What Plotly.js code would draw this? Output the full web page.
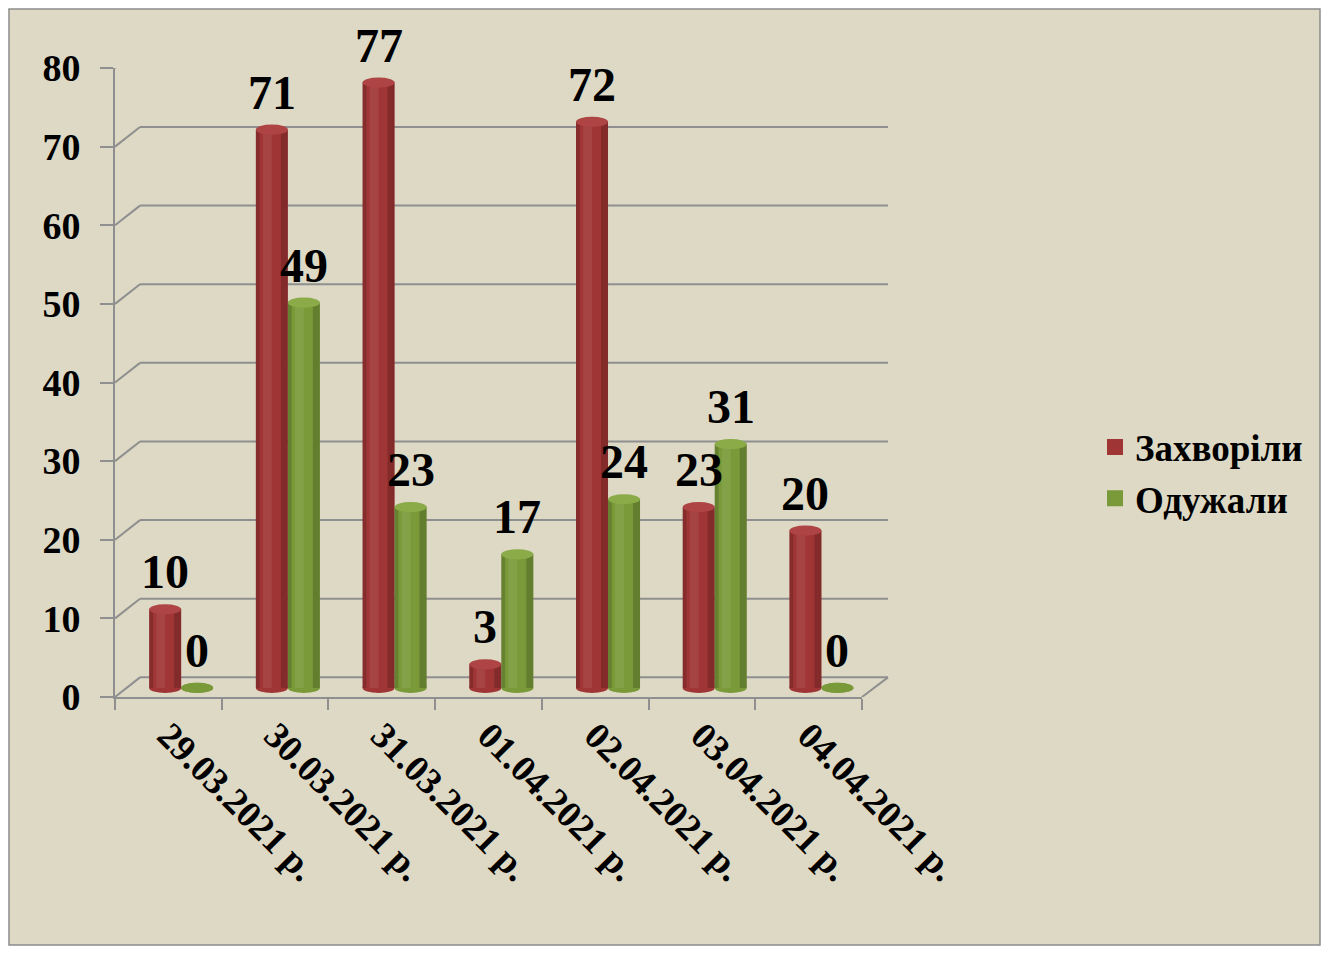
<!DOCTYPE html>
<html>
<head>
<meta charset="utf-8">
<script src="https://cdn.plot.ly/plotly-3.0.1.min.js"></script>
<style>html,body{margin:0;padding:0;background:#fff;}#chart{width:1331px;height:957px;}</style>
</head>
<body>
<div id="chart"></div>
<script>
// ---- data ----
var categories = ['29.03.2021 р.', '30.03.2021 р.', '31.03.2021 р.', '01.04.2021 р.', '02.04.2021 р.', '03.04.2021 р.', '04.04.2021 р.'];
var sick = [10, 71, 77, 3, 72, 23, 20];
var recovered = [0, 49, 23, 17, 24, 31, 0];
var seriesNames = ['Захворіли', 'Одужали'];
var yTicks = [0, 10, 20, 30, 40, 50, 60, 70, 80];

// ---- style ----
var W = 1331, H = 957;
var px = function (x) { return x / W; };
var FONT = 'Liberation Serif, Times New Roman, serif';
var red = '#A03535', redCap = '#AE4444';
var green = '#7A9A3A', greenCap = '#8BAA48';
var gridColor = '#8F8F8F';
var BACK = 2.5;          // depth shift of back wall in y units
var offR = -0.18, offG = 0.12, bw = 0.30;
var capR = 0.65;

var series = [
  {vals: sick, name: seriesNames[0], color: red, cap: redCap, off: offR},
  {vals: recovered, name: seriesNames[1], color: green, cap: greenCap, off: offG}
];

var traces = series.map(function (s) {
  return {
    type: 'bar', x: categories, y: s.vals, name: s.name,
    yaxis: 'y3', offset: s.off, width: bw, showlegend: false,
    marker: {color: s.color, line: {width: 0}},
    hoverinfo: 'x+y'
  };
});
// legend entries (square markers)
series.forEach(function (s) {
  traces.push({type: 'scatter', mode: 'markers', x: [null], y: [null], name: s.name, yaxis: 'y3',
    marker: {symbol: 'square', size: 18, color: s.color}, showlegend: true});
});

var shapes = [];
// outer tan panel with border
shapes.push({type: 'rect', xref: 'paper', yref: 'paper', x0: px(9), x1: px(1320), y0: 1 - 945 / H, y1: 1 - 9 / H,
  fillcolor: '#DDD9C5', line: {color: '#8C8C8C', width: 1.5}, layer: 'below'});
// back wall + side wall gridlines
var x0p = px(115), xb = px(140), xe = px(888), xf = px(862);
yTicks.forEach(function (v) {
  shapes.push({type: 'line', xref: 'paper', yref: 'y', x0: x0p, y0: v, x1: xb, y1: v + BACK, line: {color: gridColor, width: 2}, layer: 'below'});
  shapes.push({type: 'line', xref: 'paper', yref: 'y', x0: xb, y0: v + BACK, x1: xe, y1: v + BACK, line: {color: gridColor, width: 2}, layer: 'below'});
});
shapes.push({type: 'line', xref: 'paper', yref: 'y', x0: xf, y0: 0, x1: xe, y1: BACK, line: {color: gridColor, width: 2}, layer: 'below'});

// cylinder effects
var annotations = [];
series.forEach(function (s) {
  s.vals.forEach(function (v, i) {
    var l = i + s.off, r = l + bw;
    shapes.push({type: 'circle', xref: 'x', yref: 'y3', x0: l, x1: r, y0: -capR, y1: capR, fillcolor: s.color, line: {width: 0}, layer: 'below'});
    if (v > 0) {
      shapes.push({type: 'rect', xref: 'x', yref: 'y3', x0: l, x1: l + 0.12 * bw, y0: 0, y1: v, fillcolor: 'rgba(0,0,0,0.16)', line: {width: 0}});
      shapes.push({type: 'rect', xref: 'x', yref: 'y3', x0: l + 0.22 * bw, x1: l + 0.5 * bw, y0: 0, y1: v, fillcolor: 'rgba(255,255,255,0.07)', line: {width: 0}});
      shapes.push({type: 'rect', xref: 'x', yref: 'y3', x0: l + 0.78 * bw, x1: r, y0: 0, y1: v, fillcolor: 'rgba(0,0,0,0.18)', line: {width: 0}});
    }
    shapes.push({type: 'circle', xref: 'x', yref: 'y3', x0: l, x1: r, y0: v - capR, y1: v + capR,
      fillcolor: v > 0 ? s.cap : s.color, line: {width: 0}});
    annotations.push({xref: 'x', yref: 'y3', x: l + bw / 2, y: v, text: String(v), showarrow: false,
      yanchor: 'bottom', yshift: 9, font: {family: FONT, size: 48, color: '#000', weight: 'bold'}});
  });
});

var layout = {
  width: W, height: H,
  paper_bgcolor: '#FFFFFF', plot_bgcolor: 'rgba(0,0,0,0)',
  margin: {l: 0, r: 0, t: 0, b: 0},
  barmode: 'overlay',
  showlegend: true,
  legend: {x: px(1095), y: 1 - 473 / H, xanchor: 'left', yanchor: 'middle', itemwidth: 30,
    font: {family: FONT, size: 37, color: '#000', weight: 'bold'}, bgcolor: 'rgba(0,0,0,0)', tracegroupgap: 0},
  xaxis: {type: 'category', domain: [px(115), px(862)], range: [-0.5, 6.5],
    showline: true, linecolor: gridColor, linewidth: 2, ticks: 'outside', tickson: 'boundaries',
    ticklen: 11, tickcolor: gridColor, tickwidth: 2, tickangle: 45, showgrid: false,
    tickfont: {family: FONT, size: 37, color: '#000', weight: 'bold'}, fixedrange: true},
  yaxis: {domain: [1 - 697 / H, 1 - 68 / H], range: [0, 80], tickvals: yTicks,
    showline: true, linecolor: gridColor, linewidth: 2, ticks: 'outside', ticklen: 13,
    tickcolor: gridColor, tickwidth: 2, showgrid: false, zeroline: false, ticklabelstandoff: 12,
    tickfont: {family: FONT, size: 38, color: '#000', weight: 'bold'}, fixedrange: true},
  yaxis3: {overlaying: 'y', anchor: 'x', range: [-1.15, 78.85], visible: false, showgrid: false, zeroline: false, fixedrange: true},
  shapes: shapes,
  annotations: annotations
};

Plotly.newPlot('chart', traces, layout, {displayModeBar: false, staticPlot: true});
</script>
</body>
</html>
